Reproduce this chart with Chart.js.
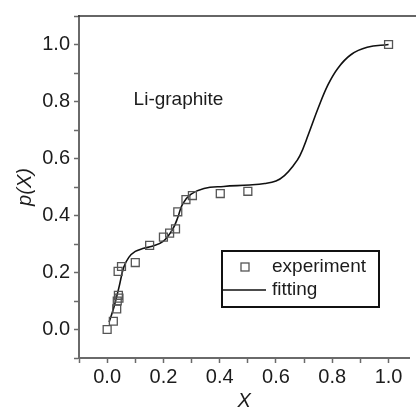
<!DOCTYPE html>
<html lang="en">
<head>
  <meta charset="UTF-8" />
  <title>p(X) Li-graphite</title>
  <script src="https://cdn.jsdelivr.net/npm/chart.js"></script>
  <style>
    html, body { margin: 0; padding: 0; background: #fff; }
    #grafico { display: block; }
  </style>
</head>
<body>

  <canvas id="grafico" width="416" height="409"></canvas>

  <script>
    // measured points
    const expX = [0.0, 0.022, 0.034, 0.036, 0.04, 0.042, 0.039, 0.051, 0.10, 0.151, 0.20, 0.222, 0.243, 0.251, 0.28, 0.303, 0.402, 0.50, 1.0];
    const expY = [0.0, 0.029, 0.072, 0.10, 0.12, 0.11, 0.204, 0.221, 0.235, 0.295, 0.324, 0.338, 0.353, 0.413, 0.456, 0.47, 0.477, 0.485, 1.0];

    // fitted curve
    const fitX = [0.007, 0.024, 0.042, 0.059, 0.077, 0.10, 0.13, 0.16, 0.20, 0.233, 0.251, 0.268, 0.297, 0.344, 0.414, 0.506, 0.56, 0.60, 0.63, 0.66, 0.685, 0.715, 0.75, 0.785, 0.82, 0.866, 0.924, 1.0];
    const fitY = [0.026, 0.078, 0.148, 0.218, 0.253, 0.274, 0.285, 0.292, 0.31, 0.352, 0.393, 0.44, 0.474, 0.495, 0.502, 0.507, 0.512, 0.521, 0.54, 0.573, 0.61, 0.684, 0.777, 0.859, 0.917, 0.964, 0.99, 1.0];

    const xTicks = [-0.1, 0.0, 0.1, 0.2, 0.3, 0.4, 0.5, 0.6, 0.7, 0.8, 0.9, 1.0];
    const yTicks = [-0.1, 0.0, 0.1, 0.2, 0.3, 0.4, 0.5, 0.6, 0.7, 0.8, 0.9, 1.0, 1.1];
    const labeled = [0.0, 0.2, 0.4, 0.6, 0.8, 1.0];

    const nombres = ['experiment', 'fitting'];
    const rotulo = 'Li-graphite';

    const fuente = '"Liberation Sans", Arial, sans-serif';
    const texto = '#1c1c1c';
    const ejes = '#6a6a6a';

    const puntos = (xs, ys) => xs.map((x, i) => ({ x: x, y: ys[i] }));

    function etiqueta(v) {
      const r = Math.round(v * 10) / 10;
      return labeled.some(l => Math.abs(l - r) < 1e-6) ? r.toFixed(1) : '';
    }

    // frame top line, text label and boxed legend
    const extras = {
      id: 'extras',
      afterDraw(chart) {
        const c = chart.ctx;
        const a = chart.chartArea;
        const sx = chart.scales.x, sy = chart.scales.y;
        c.save();

        c.strokeStyle = '#333';
        c.lineWidth = 1.5;
        c.beginPath();
        c.moveTo(a.left - 1, a.top);
        c.lineTo(chart.width, a.top);
        c.stroke();

        c.fillStyle = texto;
        c.font = '19px ' + fuente;
        c.textBaseline = 'alphabetic';
        c.textAlign = 'left';
        c.fillText(rotulo, sx.getPixelForValue(0.094), sy.getPixelForValue(0.787));

        // legend box
        const bx = 222, by = 251, bw = 157, bh = 56;
        c.strokeStyle = '#111';
        c.lineWidth = 2;
        c.strokeRect(bx, by, bw, bh);

        const ds0 = chart.data.datasets[0];
        const ds1 = chart.data.datasets[1];
        c.strokeStyle = ds0.borderColor;
        c.lineWidth = ds0.borderWidth;
        c.strokeRect(241, 263, 8, 8);

        c.strokeStyle = ds1.borderColor;
        c.lineWidth = ds1.borderWidth;
        c.beginPath();
        c.moveTo(bx, 290);
        c.lineTo(266, 290);
        c.stroke();

        c.fillStyle = texto;
        c.textBaseline = 'middle';
        c.fillText(nombres[0], 272, 267);
        c.fillText(nombres[1], 272, 290);
        c.restore();
      }
    };

    const ctx = document.getElementById('grafico').getContext('2d');
    const chart = new Chart(ctx, {
      type: 'scatter',
      data: {
        datasets: [
          {
            label: nombres[0],
            data: puntos(expX, expY),
            pointStyle: 'rect',
            pointRadius: 5.6,
            pointHoverRadius: 5.6,
            borderColor: '#555',
            backgroundColor: 'rgba(0,0,0,0)',
            borderWidth: 1.3,
            showLine: false
          },
          {
            label: nombres[1],
            data: puntos(fitX, fitY),
            showLine: true,
            pointRadius: 0,
            borderColor: '#111',
            borderWidth: 1.6,
            tension: 0.4,
            fill: false
          }
        ]
      },
      options: {
        responsive: false,
        animation: false,
        layout: { padding: { top: 14, right: 0, left: 0, bottom: 0 } },
        plugins: {
          legend: { display: false },
          tooltip: { enabled: false }
        },
        scales: {
          x: {
            type: 'linear',
            min: -0.1,
            max: 1.073,
            afterBuildTicks: s => { s.ticks = xTicks.map(v => ({ value: v })); },
            afterFit: s => { s.height = 51; },
            grid: { drawOnChartArea: false, drawTicks: true, tickLength: 5, tickColor: ejes, tickWidth: 1.5 },
            border: { color: ejes, width: 2 },
            ticks: {
              autoSkip: false,
              maxRotation: 0,
              padding: 2,
              color: texto,
              font: { family: fuente, size: 20 },
              callback: v => etiqueta(v)
            },
            title: {
              display: true,
              text: 'X',
              color: texto,
              font: { family: fuente, size: 20, style: 'italic', lineHeight: 1 },
              padding: { top: 0, bottom: -2 }
            }
          },
          y: {
            type: 'linear',
            min: -0.1,
            max: 1.1,
            afterBuildTicks: s => { s.ticks = yTicks.map(v => ({ value: v })); },
            afterFit: s => { s.width = 79; },
            grid: { drawOnChartArea: false, drawTicks: true, tickLength: 5, tickColor: ejes, tickWidth: 1.5 },
            border: { color: ejes, width: 2 },
            ticks: {
              autoSkip: false,
              padding: 4,
              color: texto,
              font: { family: fuente, size: 20 },
              callback: v => etiqueta(v)
            },
            title: {
              display: true,
              text: 'p(X)',
              color: texto,
              font: { family: fuente, size: 20, style: 'italic', lineHeight: 1 },
              padding: { top: 15, bottom: 0 }
            }
          }
        }
      },
      plugins: [extras]
    });
  </script>

</body>
</html>
